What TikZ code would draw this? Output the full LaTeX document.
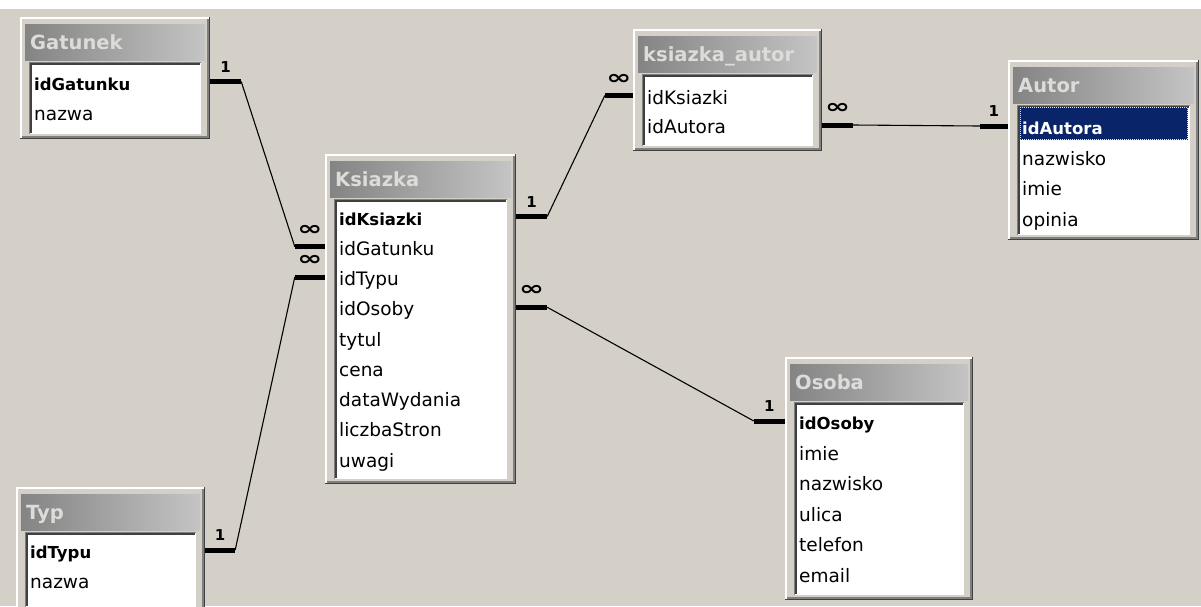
\documentclass[tikz,border=0pt]{standalone}
\usepackage{fontspec}
\setmainfont{DejaVu Sans}
\definecolor{bgc}{HTML}{D4D0C8}
\definecolor{facec}{HTML}{D4D0C8}
\definecolor{shadowc}{HTML}{808080}
\definecolor{dkc}{HTML}{404040}
\definecolor{titleL}{HTML}{848484}
\definecolor{titleR}{HTML}{C4C4C4}
\definecolor{ttltxt}{HTML}{DCDCD8}
\definecolor{navyc}{HTML}{0A246A}
\definecolor{focusc}{HTML}{E8E8C8}
\tikzset{
  fldtext/.style={anchor=base west, inner sep=0pt, text height=17pt, text depth=0pt,
                  font=\fontsize{18.5}{20}\selectfont},
  pktext/.style={fldtext, font=\fontsize{16.5}{20}\selectfont\bfseries},
  ttl/.style={anchor=base west, inner sep=0pt, text=ttltxt,
              font=\fontsize{19.5}{22}\selectfont\bfseries},
  bar/.style={line width=5pt, black},
  rel/.style={line width=1.1pt, black},
  onelab/.style={anchor=base, inner sep=0pt, yshift=9.5pt,
                 font=\fontsize{15}{16}\selectfont\bfseries},
  manylab/.style={anchor=base, inner sep=0pt, yshift=11.4pt,
                  font=\fontsize{20}{20}\selectfont\bfseries},
}
\newcommand\inftysym{\scalebox{1.5}[1]{∞}}
% name, left, top, right, bottom, title
\newcommand\dbtable[6]{%
  \fill[facec] (#2,#3) rectangle (#4,#5);
  \draw[white, line width=1.5pt] (#2+0.75,#5-1) -- (#2+0.75,#3+0.75) -- (#4-1,#3+0.75);
  \draw[shadowc, line width=1.5pt] (#2+1.5,#5-2.25) -- (#4-2.25,#5-2.25) -- (#4-2.25,#3+1.5);
  \draw[dkc, line width=1.5pt] (#2,#5-0.75) -- (#4-0.75,#5-0.75) -- (#4-0.75,#3);
  \shade[left color=titleL, right color=titleR] (#2+5,#3+7) rectangle (#4-5,#3+43);
  \fill[white] (#2+10,#3+46) rectangle (#4-10,#5-6);
  \draw[shadowc, line width=1pt] (#2+9.5,#5-5.5) -- (#2+9.5,#3+45.5) -- (#4-9.5,#3+45.5);
  \draw[dkc, line width=1.5pt] (#2+10.75,#5-6) -- (#2+10.75,#3+46.75) -- (#4-10,#3+46.75);
  \draw[white, line width=1pt] (#2+9.5,#5-5.5) -- (#4-9.5,#5-5.5) -- (#4-9.5,#3+45.5);
  \node[inner sep=0pt, minimum width={#4-#2}, minimum height={#5-#3}] (#1)
     at ({(#2+#4)/2},{(#3+#5)/2}) {};
  \node[ttl] (#1-t) at (#2+10,#3+32) {#6};
}
\begin{document}
\begin{tikzpicture}[x=1pt,y=-1pt]
\useasboundingbox (0,0) rectangle (1201,606);
\clip (0,0) rectangle (1201,606);
\fill[bgc] (0,0) rectangle (1201,606);
\fill[white] (0,0) rectangle (1201,9);

% ---------------- Gatunek
\dbtable{gat}{20}{17}{210}{139}{Gatunek}
\node[pktext]  (gat1) at (34,90)  {idGatunku};
\node[fldtext] (gat2) at (34,120) {nazwa};

% ---------------- Typ
\dbtable{typ}{16}{487}{205}{612}{Typ}
\node[pktext]  (typ1) at (30,558.5) {idTypu};
\node[fldtext] (typ2) at (30,588.5) {nazwa};

% ---------------- Ksiazka
\dbtable{ksi}{325}{154}{516}{484}{Ksiazka}
\node[pktext]  (ksi1) at (339,225)    {idKsiazki};
\node[fldtext] (ksi2) at (339,255.25) {idGatunku};
\node[fldtext] (ksi3) at (339,285.5)  {idTypu};
\node[fldtext] (ksi4) at (339,315.75) {idOsoby};
\node[fldtext] (ksi5) at (339,346)    {tytul};
\node[fldtext] (ksi6) at (339,376.25) {cena};
\node[fldtext] (ksi7) at (339,406.5)  {dataWydania};
\node[fldtext] (ksi8) at (339,436.75) {liczbaStron};
\node[fldtext] (ksi9) at (339,467)    {uwagi};

% ---------------- ksiazka_autor
\dbtable{ka}{633}{29}{822}{151}{ksiazka\_autor}
\node[fldtext] (ka1) at (647,104)   {idKsiazki};
\node[fldtext] (ka2) at (647,133.5) {idAutora};

% ---------------- Autor
\dbtable{aut}{1008}{60}{1199}{240}{Autor}
\fill[navyc] (1019.5,106.5) rectangle (1187.5,140);
\draw[focusc, line width=1pt, dash pattern=on 1pt off 1pt] (1020,107) rectangle (1187,139.5);
\node[pktext, text=white] (aut1) at (1022,134.5) {idAutora};
\node[fldtext] (aut2) at (1022,165)   {nazwisko};
\node[fldtext] (aut3) at (1022,195.5) {imie};
\node[fldtext] (aut4) at (1022,226)   {opinia};

% ---------------- Osoba
\dbtable{oso}{785}{357}{973}{600}{Osoba}
\node[pktext]  (oso1) at (799,429.5) {idOsoby};
\node[fldtext] (oso2) at (799,460)   {imie};
\node[fldtext] (oso3) at (799,490.5) {nazwisko};
\node[fldtext] (oso4) at (799,521)   {ulica};
\node[fldtext] (oso5) at (799,551.5) {telefon};
\node[fldtext] (oso6) at (799,582)   {email};

% ---------------- relationships
% Gatunek 1 -- oo Ksiazka
\path (gat.east |- gat1) coordinate (gA) ++(31,0) coordinate (gB);
\path (ksi.west |- ksi2) coordinate (kgA) ++(-30,0) coordinate (kgB);
\draw[bar] (gA) -- (gB) node[midway, onelab] (l1) {1};
\draw[rel] (gB) -- (kgB);
\draw[bar] (kgB) -- (kgA) node[midway, manylab] (l2) {\inftysym};

% Typ 1 -- oo Ksiazka
\path (typ.east |- typ1) coordinate (tA) ++(30,0) coordinate (tB);
\path (ksi.west |- ksi3) coordinate (ktA) ++(-30,0) coordinate (ktB);
\draw[bar] (tA) -- (tB) node[midway, onelab] (l3) {1};
\draw[rel] (tB) -- (ktB);
\draw[bar] (ktB) -- (ktA) node[midway, manylab] (l4) {\inftysym};

% Ksiazka 1 -- oo ksiazka_autor
\path (ksi.east |- ksi1) coordinate (kkA) ++(31,0) coordinate (kkB);
\path (ka.west |- ka1) coordinate (kaA) ++(-28,0) coordinate (kaB);
\draw[bar] (kkA) -- (kkB) node[midway, onelab] (l5) {1};
\draw[rel] (kkB) -- (kaB);
\draw[bar] (kaB) -- (kaA) node[midway, manylab] (l6) {\inftysym};

% ksiazka_autor oo -- 1 Autor
\path (ka.east |- ka2) coordinate (kbA) ++(31,0) coordinate (kbB);
\path (aut.west |- aut1) coordinate (auA) ++(-28,0) coordinate (auB);
\draw[bar] (kbA) -- (kbB) node[midway, manylab] (l7) {\inftysym};
\draw[rel] (kbB) -- (auB);
\draw[bar] (auB) -- (auA) node[midway, onelab] (l8) {1};

% Ksiazka oo -- 1 Osoba
\path (ksi.east |- ksi4) coordinate (koA) ++(31,0) coordinate (koB);
\path (oso.west |- oso1) coordinate (osA) ++(-31,0) coordinate (osB);
\draw[bar] (koA) -- (koB) node[midway, manylab] (l9) {\inftysym};
\draw[rel] (koB) -- (osB);
\draw[bar] (osB) -- (osA) node[midway, onelab] (l10) {1};
\end{tikzpicture}
\end{document}
